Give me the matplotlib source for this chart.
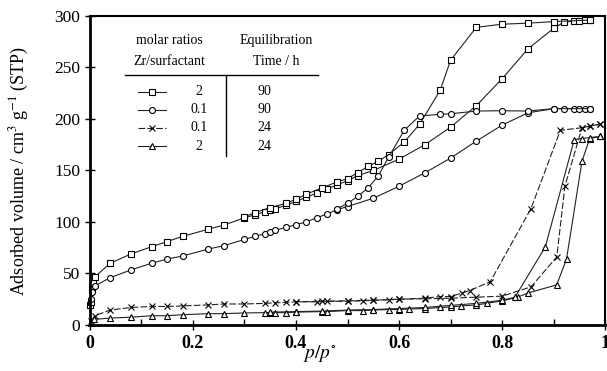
import matplotlib.pyplot as plt
from matplotlib.lines import Line2D

plt.rcParams['font.family'] = ['Liberation Serif', 'DejaVu Serif']
plt.rcParams['mathtext.fontset'] = 'stix'

# --- datos ---
# cuadrados: Zr/surfactante 2, 90 h
sq_ads_p = [0.001, 0.002, 0.004, 0.006, 0.01, 0.04, 0.08, 0.12, 0.15, 0.18, 0.23, 0.26,
            0.30, 0.32, 0.34, 0.35, 0.36, 0.38, 0.40, 0.42, 0.44, 0.46, 0.48, 0.50, 0.52,
            0.55, 0.60, 0.65, 0.70, 0.75, 0.80, 0.85, 0.90, 0.92, 0.94, 0.95, 0.96, 0.97]
sq_ads_v = [19, 22, 35, 41, 47, 60, 69, 76, 81, 86, 93, 97,
            104, 107, 110, 112, 113, 116, 120, 124, 128, 132, 136, 140, 145,
            150, 161, 175, 192, 213, 239, 268, 288, 294, 295, 295, 296, 296]
sq_des_p = [0.97, 0.90, 0.85, 0.80, 0.75, 0.70, 0.68, 0.64, 0.61, 0.58, 0.56, 0.54,
            0.52, 0.50, 0.48, 0.45, 0.42, 0.40, 0.38, 0.35, 0.32, 0.30]
sq_des_v = [296, 294.5, 293, 292, 289, 257, 228, 195, 177.5, 165.5, 159, 154,
            148, 142, 139, 133, 127, 122, 118, 114, 109, 105]

# circulos: 0.1, 90 h
ci_ads_p = [0.002, 0.005, 0.01, 0.04, 0.08, 0.12, 0.15, 0.18, 0.23, 0.26, 0.30, 0.32,
            0.34, 0.35, 0.36, 0.38, 0.40, 0.42, 0.44, 0.46, 0.48, 0.50, 0.55, 0.60,
            0.65, 0.70, 0.75, 0.80, 0.85, 0.90, 0.92, 0.94, 0.95, 0.96, 0.97]
ci_ads_v = [25, 32, 38, 46, 53.5, 60, 64, 67, 73.7, 77, 83, 86,
            88.6, 90, 92, 94.7, 97.4, 100, 104, 107.7, 112, 115, 123, 134.7,
            147.7, 162, 178.5, 194, 206, 210, 210, 210, 210, 210, 210]
ci_des_p = [0.97, 0.90, 0.85, 0.80, 0.75, 0.70, 0.68, 0.64, 0.61, 0.58, 0.56, 0.54,
            0.52, 0.50, 0.48]
ci_des_v = [210, 210, 207.7, 208, 207.7, 205, 204.5, 203, 189, 163, 145, 133,
            125, 118, 113]

# cruces: 0.1, 24 h
cr_ads_p = [0.002, 0.01, 0.04, 0.08, 0.12, 0.15, 0.18, 0.23, 0.26, 0.30, 0.34, 0.36,
            0.38, 0.40, 0.44, 0.46, 0.50, 0.53, 0.55, 0.58, 0.60, 0.65, 0.70, 0.75,
            0.80, 0.856, 0.906, 0.922, 0.955, 0.97, 0.99]
cr_ads_v = [4, 9, 14.6, 17, 18, 18, 18.5, 19.5, 20.4, 20.4, 21, 21.5,
            22, 22.5, 22.5, 23, 23, 23.5, 24, 24.5, 25, 25.5, 26, 27,
            28, 37, 66, 135, 191.5, 193, 195]
cr_des_p = [0.99, 0.97, 0.955, 0.913, 0.856, 0.777, 0.737, 0.722, 0.70, 0.68, 0.65,
            0.60, 0.55, 0.50, 0.45, 0.40]
cr_des_v = [195, 193, 191.5, 189, 113, 42, 33.4, 31, 27.6, 27.6, 26,
            25, 24, 23.5, 23, 22.5]

# triangulos: 2, 24 h
tr_ads_p = [0.002, 0.008, 0.04, 0.08, 0.12, 0.15, 0.18, 0.23, 0.26, 0.30, 0.34, 0.35,
            0.36, 0.38, 0.40, 0.45, 0.46, 0.50, 0.53, 0.55, 0.58, 0.60, 0.62, 0.65,
            0.68, 0.70, 0.72, 0.75, 0.77, 0.80, 0.83, 0.85, 0.906, 0.925, 0.955, 0.97, 0.99]
tr_ads_v = [2, 5.5, 6.7, 7.6, 9, 9, 10, 11, 11, 11.7, 12, 12,
            12, 12, 12.5, 13, 13, 14, 14, 14.5, 15, 15, 15.5, 16,
            17, 17.5, 18.5, 19.5, 21, 23.4, 27, 31, 39, 64, 159, 181, 183]
tr_des_p = [0.99, 0.97, 0.955, 0.94, 0.884, 0.825, 0.80, 0.75, 0.70, 0.65, 0.60,
            0.55, 0.50, 0.45, 0.40, 0.35]
tr_des_v = [183, 182, 181, 180, 76, 27, 24, 21, 19, 17, 16,
            15, 14.5, 13.5, 13, 12.5]

# --- figura ---
fig = plt.figure(figsize=(6.07, 3.71), dpi=100)
ax = fig.add_axes([0.148, 0.124, 0.849, 0.833])

estilos = {
    'sq': dict(marker='s', ls='-', ms=4.3),
    'ci': dict(marker='o', ls='-', ms=4.3),
    'cr': dict(marker='x', ls=(0, (6, 2)), ms=4.0),
    'tr': dict(marker='^', ls='-', ms=4.3),
}
comun = dict(color='#222222', lw=0.8, mfc='white', mec='black', mew=0.8)

series = [
    ('sq', sq_ads_p, sq_ads_v), ('sq', sq_des_p, sq_des_v),
    ('ci', ci_ads_p, ci_ads_v), ('ci', ci_des_p, ci_des_v),
    ('cr', cr_ads_p, cr_ads_v), ('cr', cr_des_p, cr_des_v),
    ('tr', tr_ads_p, tr_ads_v), ('tr', tr_des_p, tr_des_v),
]
for clave, p, v in series:
    ax.plot(p, v, clip_on=False, **estilos[clave], **comun)

ax.set_xlim(0, 1)
ax.set_ylim(0, 300)
ax.set_xticks([0, 0.2, 0.4, 0.6, 0.8, 1])
ax.set_xticklabels(['0', '0.2', '0.4', '0.6', '0.8', '1'], fontweight='bold', fontsize=13)
ax.set_xticks([0.1, 0.3, 0.5, 0.7, 0.9], minor=True)
ax.set_yticks(range(0, 301, 50))
ax.tick_params(axis='y', labelsize=12.5)
ax.tick_params(which='major', direction='inout', length=7, width=1)
ax.tick_params(which='minor', direction='in', length=4, width=1)

for lado in ['left', 'bottom']:
    ax.spines[lado].set_linewidth(2)
for lado in ['top', 'right']:
    ax.spines[lado].set_linewidth(1.5)

ax.set_ylabel('Adsorbed volume / cm$^3$ g$^{-1}$ (STP)', fontsize=13)
ax.yaxis.set_label_coords(-0.115, 0.5)
ax.set_xlabel('$p/p^{\\circ}$', fontsize=14)
ax.xaxis.set_label_coords(0.447, -0.058)

# --- tabla de leyenda ---
t = ax.transAxes
ax.text(0.155, 0.922, 'molar ratios', transform=t, ha='center', va='center', fontsize=10)
ax.text(0.361, 0.922, 'Equilibration', transform=t, ha='center', va='center', fontsize=10)
ax.text(0.155, 0.852, 'Zr/surfactant', transform=t, ha='center', va='center', fontsize=10)
ax.text(0.361, 0.852, 'Time / h', transform=t, ha='center', va='center', fontsize=10)
ax.add_line(Line2D([0.068, 0.443], [0.809, 0.809], transform=t, color='black', lw=1))
ax.add_line(Line2D([0.265, 0.265], [0.809, 0.547], transform=t, color='black', lw=1))

razones = ['2', '0.1', '0.1', '2']
tiempos = ['90', '90', '24', '24']
claves = ['sq', 'ci', 'cr', 'tr']
filas_y = [0.754, 0.696, 0.638, 0.579]
for clave, r, tt, fy in zip(claves, razones, tiempos, filas_y):
    est = dict(estilos[clave])
    ax.add_line(Line2D([0.093, 0.148], [fy, fy], transform=t, color='#222222', lw=0.8,
                       ls=est['ls']))
    ax.add_line(Line2D([0.12], [fy], transform=t, marker=est['marker'], ms=est['ms'],
                       mfc='white', mec='black', mew=0.8, ls='none'))
    ax.text(0.212, fy, r, transform=t, ha='center', va='center', fontsize=10)
    ax.text(0.338, fy, tt, transform=t, ha='center', va='center', fontsize=10)

fig.savefig('out.png', dpi=100)
